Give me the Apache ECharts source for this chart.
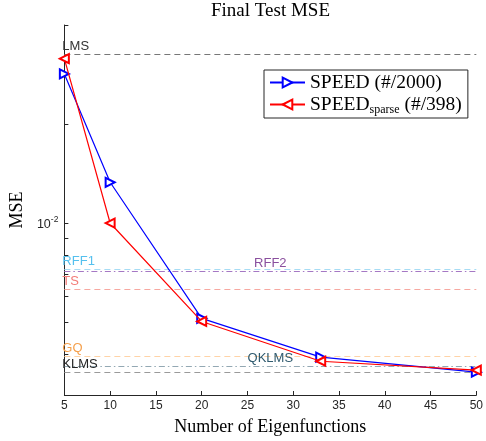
<!DOCTYPE html>
<html><head><meta charset="utf-8">
<script src="https://cdn.jsdelivr.net/npm/echarts@6/dist/echarts.min.js"></script>
<style>html,body{margin:0;padding:0;background:#fff}#c{width:486px;height:441px}</style>
</head><body><div id="c"></div>
<script>
// ---- data ----
const xValues = [5, 10, 20, 33, 50];
const speedMSE = [0.0284, 0.0133, 0.00513, 0.00391, 0.00352];
const sparseMSE = [0.0316, 0.0100, 0.00502, 0.00380, 0.00357];
const refNames = ['LMS', 'RFF1', 'RFF2', 'TS', 'GQ', 'QKLMS', 'KLMS'];
const refValues = [0.0326, 0.00726, 0.00715, 0.00630, 0.00394, 0.00368, 0.00353];
const xTickValues = [5, 10, 15, 20, 25, 30, 35, 40, 45, 50];
const yTickValues = [0.003, 0.004, 0.005, 0.006, 0.007, 0.008, 0.009, 0.01, 0.02, 0.04];
const yLabelValues = [0.01];

// ---- styles ----
const refStyles = {
  LMS:   {line: '#777777', text: '#333333', type: [6, 4], pos: 'insideStartTop'},
  RFF1:  {line: '#a6dcf4', text: '#55c0ee', type: [6, 4], pos: 'insideStartTop'},
  RFF2:  {line: '#a578c4', text: '#8a4f9e', type: [6, 3, 1.5, 3], pos: 'insideMiddleTop'},
  TS:    {line: '#f7a8a0', text: '#f37c78', type: [6, 4], pos: 'insideStartTop'},
  GQ:    {line: '#ffd3a6', text: '#f5a04c', type: [6, 4], pos: 'insideStartTop'},
  QKLMS: {line: '#93a8b3', text: '#2f5a6e', type: [6, 3, 1.5, 3], pos: 'insideMiddleTop'},
  KLMS:  {line: '#9a9a9a', text: '#262626', type: [6, 4], pos: 'insideStartTop'}
};
const serif = 'Liberation Serif';
const sans = 'Liberation Sans';
const axisColor = '#262626';

const chart = echarts.init(document.getElementById('c'), null, {renderer: 'canvas'});

const refMarkData = refNames.map((n, i) => ({
  name: n,
  yAxis: refValues[i],
  lineStyle: {color: refStyles[n].line, type: refStyles[n].type, width: 1.2},
  label: {show: true, formatter: n, position: refStyles[n].pos, color: refStyles[n].text,
          fontFamily: sans, fontSize: 13,
          distance: refStyles[n].pos === 'insideStartTop' ? [-2, 1] : [0, 1]}
}));

chart.setOption({
  animation: false,
  backgroundColor: '#ffffff',
  title: {
    text: 'Final Test MSE', left: 211, top: 2, padding: 0,
    textStyle: {fontFamily: serif, fontSize: 19, fontWeight: 'normal', color: '#000'}
  },
  grid: {left: 58, right: 4, top: 25, bottom: 44, containLabel: false},
  legend: {
    data: ['SPEED (#/2000)', 'SPEED_sparse (#/398)'],
    orient: 'vertical', left: 264, top: 70,
    padding: [2.5, 6, 2.5, 5], itemGap: 2, itemWidth: 35, itemHeight: 12,
    borderColor: '#262626', borderWidth: 1, borderRadius: 0, backgroundColor: '#fff',
    formatter: function (name) {
      if (name === 'SPEED (#/2000)') return '{a|SPEED (#/2000)}';
      return '{a|SPEED}{s|sparse}{a| (#/398)}';
    },
    textStyle: {
      rich: {
        a: {fontFamily: serif, fontSize: 19.5, color: '#000', lineHeight: 22},
        s: {fontFamily: serif, fontSize: 12, color: '#000', lineHeight: 12, verticalAlign: 'bottom'}
      }
    }
  },
  xAxis: {
    type: 'value', min: 5, max: 50, interval: 5,
    name: 'Number of Eigenfunctions', nameLocation: 'middle', nameGap: 23,
    nameTextStyle: {fontFamily: serif, fontSize: 18, color: '#000'},
    axisLine: {lineStyle: {color: axisColor, width: 1}},
    axisTick: {inside: true, length: 4, lineStyle: {color: axisColor}},
    axisLabel: {color: axisColor, fontFamily: sans, fontSize: 12, margin: 5,
                customValues: xTickValues},
    splitLine: {show: false}
  },
  yAxis: {
    type: 'log', logBase: 10, min: 0.003, max: 0.04,
    name: 'MSE', nameLocation: 'middle', nameGap: 33, nameRotate: 90,
    nameTextStyle: {fontFamily: serif, fontSize: 18, color: '#000'},
    axisLine: {show: true, lineStyle: {color: axisColor, width: 1}},
    axisTick: {show: true, inside: true, length: 4, lineStyle: {color: axisColor},
               customValues: yTickValues},
    axisLabel: {
      customValues: yLabelValues, margin: 6,
      formatter: function (v) { return Math.abs(v - 0.01) < 1e-9 ? '{b|10}{p|-2}' : ''; },
      rich: {
        b: {fontFamily: sans, fontSize: 12.5, color: axisColor, lineHeight: 16, verticalAlign: 'bottom'},
        p: {fontFamily: sans, fontSize: 8.5, color: axisColor, lineHeight: 9, verticalAlign: 'top'}
      }
    },
    splitLine: {show: false}
  },
  series: [
    {
      name: 'refs', type: 'line', data: [], silent: true,
      markLine: {symbol: ['none', 'none'], silent: true, animation: false, precision: 10,
                 data: refMarkData}
    },
    {
      name: 'SPEED (#/2000)', type: 'line', clip: false,
      data: xValues.map((x, i) => [x, speedMSE[i]]),
      symbol: 'emptyTriangle', symbolSize: 9, symbolRotate: -90,
      lineStyle: {color: '#0000ff', width: 1.2},
      itemStyle: {color: '#0000ff', borderColor: '#0000ff', borderWidth: 1.2},
      z: 5
    },
    {
      name: 'SPEED_sparse (#/398)', type: 'line', clip: false,
      data: xValues.map((x, i) => [x, sparseMSE[i]]),
      symbol: 'emptyTriangle', symbolSize: 9, symbolRotate: 90,
      lineStyle: {color: '#ff0000', width: 1.2},
      itemStyle: {color: '#ff0000', borderColor: '#ff0000', borderWidth: 1.2},
      z: 6
    }
  ]
});
</script>
</body></html>
